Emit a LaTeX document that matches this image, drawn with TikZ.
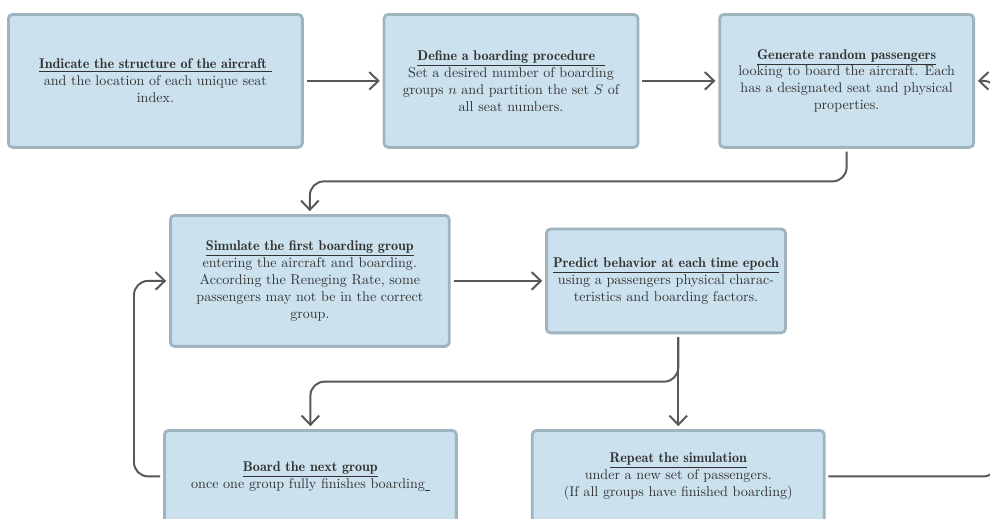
\documentclass[tikz,border=0pt]{standalone}
\usepackage{tikz}
\usetikzlibrary{arrows.meta,positioning,calc}
\definecolor{boxfill}{RGB}{203,225,237}
\definecolor{boxline}{RGB}{160,180,192}
\definecolor{arrowgray}{RGB}{88,88,88}
\definecolor{textgray}{RGB}{50,50,50}
\newcommand{\stagetitle}[1]{\underline{{\fontseries{b}\selectfont #1}}}

\begin{document}
\begin{tikzpicture}[x=0.71pt, y=-0.71pt,
		stage/.style={rectangle, draw=boxline, fill=boxfill, line width=2pt, rounded corners=3pt, align=center, text=textgray, inner sep=0pt},
		flow/.style={->, >={Straight Barb[length=6.5pt,width=12.5pt]}, line width=1.4pt, draw=arrowgray, rounded corners=10pt, shorten >=2pt, shorten <=2pt}]
		\path [use as bounding box, clip] (0,0) rectangle (990,518);
		\node (ind) [stage, minimum width=208.7pt, minimum height=94.4pt, anchor=north west] at (7,13)
			{\stagetitle{Indicate the structure of the aircraft\ }\\ and the location of each unique seat\\ index.};
		\node (def) [stage, minimum width=180.3pt, minimum height=94.4pt, right=56pt of ind]
			{\stagetitle{Define a boarding procedure\ \ }\\ Set a desired number of boarding\\ groups $n$ and partition the set $S$ of\\ all seat numbers.};
		\node (gen) [stage, minimum width=180.3pt, minimum height=94.4pt, right=56pt of def]
			{\stagetitle{Generate random passengers}\\ looking to board the aircraft. Each\\ has a designated seat and physical\\ properties.};
		\node (sim) [stage, minimum width=198pt, minimum height=93pt, anchor=north west] at (169,214)
			{\stagetitle{Simulate the first boarding group}\\ entering the aircraft and boarding.\\ According the Reneging Rate, some\\ passengers may not be in the correct\\ group.};
		\node (pred) [stage, minimum width=169.7pt, minimum height=73.8pt, right=67pt of sim]
			{\stagetitle{Predict behavior at each time epoch}\\ using a passengers physical charac-\\ teristics and boarding factors.};
		\node (brd) [stage, minimum width=207.3pt, minimum height=65.3pt, anchor=north west] at (163,429)
			{\stagetitle{Board the next group}\\ once one group fully finishes boarding\underline{\ }};
		\node (rep) [stage, minimum width=207.3pt, minimum height=65.3pt, right=51.9pt of brd]
			{\stagetitle{Repeat the simulation}\\ under a new set of passengers.\\ (If all groups have finished boarding)};
		\coordinate [right=16pt of gen.east] (back);
		
		\draw [flow] (ind) -- (def);
		\draw [flow] (def) -- (gen);
		\draw [flow] (gen.south) |- ($(gen.south)!0.5!(sim.north)$) -| (sim.north);
		\draw [flow] (sim) -- (pred);
		\draw [flow] (pred.south -| rep.north) -- (rep.north);
		\draw [flow] (pred.south -| rep.north) |- ($(pred.south)!0.5!(brd.north)$) -| (brd.north);
		\draw [flow] (brd.west) -- ++(-20.6pt,0) |- (sim.west);
		\draw [flow] (rep.east) -| (back) -- (gen.east);
	\end{tikzpicture}
\end{document}
